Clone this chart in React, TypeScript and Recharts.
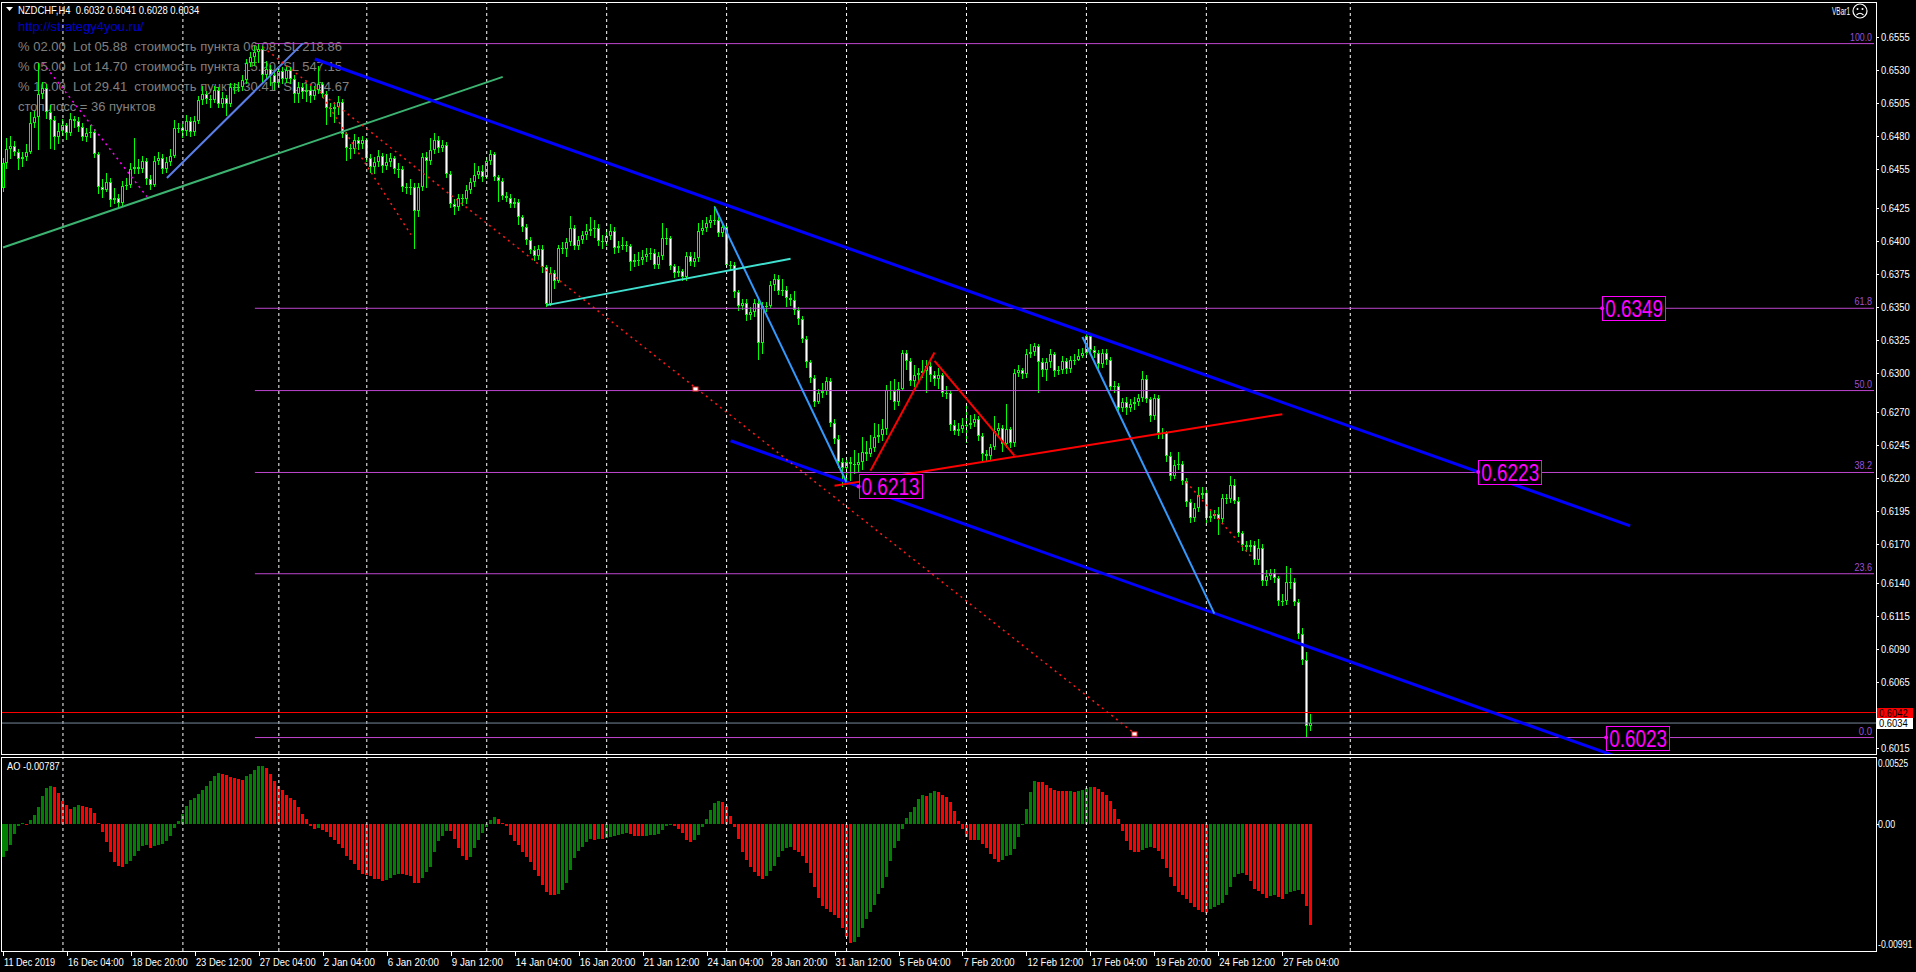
import { Bar, Cell, ComposedChart, ReferenceDot, ReferenceLine, XAxis, YAxis } from "recharts"

// NZDCHF H4, 11 Dec 2019 - 28 Feb 2020, MT4 "green on black" look

const W = 1916
const AXIS_W = 40
const SLOTS = 469 // bar slots across the window, incl. the empty space on the right
const FIRST_OPEN = 6440
const LIME = "#00ff00"
const SANS = "'Liberation Sans', Arial, sans-serif"
const CHAR_W = 4.65 // MT4 uses a narrow 8pt face; squeeze small labels to its width

// prices in pips (x 0.0001)
const closes = [
  6459, 6470, 6472, 6468, 6462, 6464, 6468, 6490, 6494, 6512,
  6516, 6498, 6492, 6479, 6484, 6488, 6482, 6493, 6491, 6487,
  6479, 6482, 6483, 6466, 6441, 6439, 6445, 6431, 6433, 6429,
  6442, 6443, 6455, 6456, 6455, 6461, 6447, 6443, 6461, 6463,
  6455, 6460, 6465, 6486, 6486, 6484, 6491, 6483, 6491, 6507,
  6512, 6508, 6507, 6515, 6504, 6509, 6504, 6517, 6516, 6517,
  6522, 6535, 6540, 6544, 6546, 6526, 6531, 6526, 6520, 6529,
  6523, 6530, 6523, 6512, 6517, 6513, 6515, 6510, 6515, 6519,
  6512, 6501, 6500, 6502, 6506, 6481, 6471, 6470, 6477, 6474,
  6477, 6463, 6456, 6460, 6465, 6457, 6460, 6463, 6455, 6455,
  6441, 6440, 6441, 6423, 6441, 6464, 6461, 6469, 6477, 6471,
  6473, 6451, 6428, 6426, 6433, 6432, 6439, 6445, 6450, 6453,
  6449, 6461, 6466, 6449, 6446, 6434, 6433, 6428, 6430, 6418,
  6411, 6401, 6393, 6389, 6394, 6380, 6352, 6376, 6370, 6395,
  6394, 6399, 6410, 6396, 6401, 6405, 6408, 6409, 6410, 6400,
  6399, 6404, 6408, 6395, 6396, 6397, 6396, 6384, 6386, 6386,
  6388, 6390, 6391, 6382, 6389, 6402, 6402, 6381, 6376, 6377,
  6373, 6389, 6384, 6387, 6408, 6410, 6414, 6416, 6416, 6406,
  6411, 6382, 6382, 6361, 6351, 6353, 6344, 6346, 6353, 6323,
  6351, 6351, 6367, 6371, 6362, 6363, 6357, 6355, 6348, 6341,
  6326, 6308, 6296, 6278, 6285, 6286, 6294, 6262, 6250, 6232,
  6228, 6232, 6231, 6230, 6232, 6240, 6238, 6243, 6251, 6253,
  6257, 6287, 6286, 6278, 6288, 6315, 6309, 6294, 6298, 6300,
  6301, 6305, 6298, 6295, 6298, 6285, 6285, 6260, 6256, 6257,
  6260, 6260, 6262, 6265, 6252, 6238, 6237, 6244, 6256, 6258,
  6246, 6257, 6247, 6300, 6302, 6299, 6314, 6316, 6320, 6308,
  6302, 6308, 6314, 6301, 6302, 6309, 6303, 6310, 6310, 6313,
  6315, 6328, 6317, 6315, 6307, 6315, 6310, 6289, 6290, 6273,
  6278, 6273, 6276, 6278, 6281, 6295, 6280, 6267, 6281, 6254,
  6254, 6237, 6222, 6230, 6231, 6218, 6202, 6190, 6197, 6207,
  6209, 6190, 6191, 6193, 6189, 6205, 6204, 6215, 6203, 6178,
  6169, 6168, 6169, 6158, 6167, 6142, 6146, 6148, 6144, 6127,
  6127, 6141, 6141, 6126, 6102, 6082, 6032, 6034,
]

const highs = [
  6463, 6478, 6480, 6476, 6470, 6468, 6474, 6498, 6499, 6535,
  6521, 6519, 6503, 6495, 6490, 6493, 6490, 6497, 6495, 6494,
  6490, 6486, 6488, 6485, 6468, 6447, 6452, 6448, 6440, 6436,
  6446, 6448, 6459, 6478, 6462, 6465, 6463, 6450, 6465, 6468,
  6466, 6464, 6470, 6492, 6490, 6489, 6496, 6494, 6495, 6510,
  6518, 6514, 6511, 6518, 6517, 6513, 6511, 6520, 6520, 6521,
  6526, 6538, 6544, 6548, 6550, 6548, 6537, 6534, 6530, 6533,
  6532, 6533, 6532, 6526, 6521, 6520, 6519, 6518, 6518, 6533,
  6521, 6514, 6505, 6506, 6510, 6508, 6483, 6474, 6481, 6479,
  6480, 6478, 6466, 6464, 6469, 6467, 6466, 6467, 6465, 6459,
  6457, 6444, 6447, 6444, 6444, 6467, 6468, 6478, 6482, 6480,
  6477, 6475, 6453, 6432, 6436, 6436, 6443, 6448, 6459, 6457,
  6458, 6464, 6469, 6468, 6450, 6448, 6437, 6436, 6433, 6432,
  6420, 6413, 6403, 6396, 6397, 6397, 6382, 6380, 6378, 6397,
  6399, 6402, 6419, 6412, 6404, 6408, 6413, 6418, 6416, 6413,
  6405, 6409, 6413, 6411, 6400, 6403, 6400, 6398, 6390, 6392,
  6393, 6395, 6395, 6394, 6392, 6414, 6410, 6404, 6383, 6381,
  6379, 6392, 6392, 6392, 6414, 6416, 6418, 6420, 6427, 6418,
  6414, 6412, 6385, 6384, 6363, 6356, 6356, 6350, 6356, 6355,
  6354, 6354, 6370, 6375, 6374, 6371, 6366, 6360, 6362, 6350,
  6343, 6328, 6310, 6298, 6288, 6292, 6297, 6296, 6265, 6253,
  6235, 6236, 6236, 6241, 6239, 6251, 6248, 6253, 6262, 6261,
  6265, 6291, 6294, 6295, 6293, 6317, 6317, 6311, 6306, 6304,
  6310, 6310, 6308, 6301, 6304, 6300, 6290, 6287, 6264, 6262,
  6266, 6277, 6268, 6269, 6267, 6254, 6241, 6246, 6267, 6262,
  6260, 6276, 6259, 6303, 6306, 6304, 6318, 6322, 6323, 6322,
  6311, 6311, 6318, 6316, 6305, 6313, 6311, 6313, 6314, 6318,
  6319, 6330, 6329, 6320, 6317, 6318, 6318, 6312, 6294, 6292,
  6281, 6282, 6280, 6282, 6284, 6301, 6298, 6282, 6284, 6283,
  6258, 6256, 6240, 6234, 6240, 6233, 6220, 6204, 6201, 6213,
  6213, 6211, 6195, 6196, 6198, 6208, 6208, 6222, 6219, 6206,
  6180, 6172, 6173, 6172, 6174, 6170, 6150, 6151, 6151, 6146,
  6132, 6153, 6152, 6144, 6128, 6106, 6088, 6041,
]

const lows = [
  6437, 6455, 6462, 6465, 6454, 6456, 6461, 6466, 6486, 6469,
  6508, 6493, 6470, 6469, 6474, 6480, 6477, 6480, 6486, 6483,
  6476, 6475, 6478, 6463, 6436, 6433, 6437, 6426, 6428, 6425,
  6427, 6439, 6440, 6451, 6451, 6452, 6443, 6439, 6441, 6458,
  6451, 6452, 6457, 6463, 6482, 6478, 6480, 6479, 6480, 6489,
  6503, 6504, 6501, 6505, 6501, 6501, 6495, 6502, 6512, 6513,
  6514, 6519, 6532, 6533, 6535, 6520, 6522, 6518, 6515, 6517,
  6519, 6520, 6519, 6505, 6505, 6508, 6506, 6505, 6507, 6512,
  6509, 6488, 6494, 6490, 6496, 6478, 6461, 6462, 6466, 6469,
  6470, 6460, 6452, 6451, 6456, 6452, 6454, 6456, 6451, 6448,
  6437, 6436, 6435, 6394, 6418, 6438, 6440, 6458, 6466, 6467,
  6468, 6448, 6425, 6420, 6423, 6427, 6428, 6436, 6441, 6447,
  6445, 6447, 6458, 6446, 6430, 6431, 6430, 6425, 6425, 6412,
  6407, 6397, 6390, 6385, 6386, 6376, 6350, 6351, 6364, 6368,
  6390, 6388, 6396, 6393, 6393, 6398, 6401, 6404, 6402, 6396,
  6394, 6396, 6401, 6390, 6391, 6393, 6392, 6377, 6380, 6381,
  6382, 6384, 6386, 6379, 6379, 6386, 6397, 6378, 6372, 6373,
  6370, 6370, 6381, 6380, 6384, 6405, 6407, 6410, 6412, 6403,
  6403, 6380, 6378, 6357, 6347, 6348, 6339, 6340, 6342, 6310,
  6314, 6346, 6349, 6362, 6359, 6358, 6350, 6351, 6344, 6336,
  6323, 6304, 6292, 6274, 6276, 6281, 6283, 6259, 6246, 6228,
  6213, 6216, 6218, 6223, 6225, 6226, 6233, 6236, 6240, 6247,
  6248, 6253, 6279, 6272, 6275, 6286, 6302, 6290, 6289, 6294,
  6296, 6285, 6293, 6290, 6288, 6282, 6280, 6256, 6253, 6252,
  6254, 6247, 6257, 6259, 6248, 6233, 6232, 6234, 6241, 6251,
  6240, 6243, 6243, 6244, 6297, 6295, 6296, 6311, 6313, 6285,
  6297, 6294, 6304, 6297, 6298, 6299, 6299, 6300, 6306, 6309,
  6311, 6313, 6314, 6311, 6303, 6304, 6306, 6286, 6285, 6270,
  6270, 6268, 6270, 6272, 6275, 6278, 6277, 6263, 6264, 6250,
  6250, 6232, 6218, 6219, 6226, 6215, 6198, 6186, 6187, 6194,
  6204, 6186, 6187, 6189, 6177, 6186, 6200, 6201, 6200, 6175,
  6165, 6164, 6164, 6154, 6154, 6138, 6138, 6143, 6140, 6123,
  6123, 6124, 6136, 6123, 6098, 6078, 6023, 6028,
]

// Awesome Oscillator, x 0.00001
const aoValues = [
  -255, -211, -159, -78, -16, 8, 5, 31, 70, 135,
  219, 284, 297, 289, 247, 182, 148, 117, 133, 148,
  141, 135, 128, 89, 8, -60, -138, -216, -294, -326,
  -333, -315, -289, -247, -211, -169, -164, -185, -169, -159,
  -151, -130, -94, -29, 23, 78, 141, 188, 206, 232,
  271, 297, 336, 375, 401, 391, 383, 370, 362, 352,
  346, 375, 396, 422, 453, 456, 440, 396, 339, 297,
  266, 227, 206, 188, 135, 83, 39, -13, -34, -29,
  -47, -60, -99, -125, -156, -190, -247, -281, -315, -359,
  -393, -399, -404, -430, -432, -443, -438, -419, -399, -388,
  -393, -399, -404, -456, -458, -419, -373, -333, -216, -133,
  -91, -55, -57, -112, -185, -247, -281, -255, -185, -125,
  -65, -21, 31, 55, 44, 13, -18, -86, -133, -164,
  -216, -255, -294, -359, -404, -477, -529, -550, -555, -542,
  -516, -458, -359, -263, -208, -177, -143, -117, -125, -112,
  -115, -107, -99, -89, -86, -73, -65, -78, -91, -94,
  -96, -89, -83, -81, -73, -44, -18, -5, -13, -34,
  -68, -125, -138, -120, -86, -21, 44, 109, 162, 180,
  175, 141, 63, -21, -117, -216, -281, -333, -373, -406,
  -425, -404, -365, -326, -255, -211, -185, -180, -203, -216,
  -247, -302, -380, -490, -576, -638, -664, -685, -711, -737,
  -810, -880, -927, -920, -880, -810, -742, -685, -628, -542,
  -498, -412, -287, -190, -130, -34, 49, 96, 135, 195,
  227, 221, 245, 261, 253, 227, 214, 172, 102, 26,
  -34, -99, -120, -125, -122, -151, -190, -234, -271, -294,
  -281, -247, -242, -195, -99, 5, 117, 253, 336, 331,
  326, 305, 284, 266, 263, 261, 258, 261, 253, 258,
  266, 284, 292, 287, 274, 253, 227, 180, 117, 44,
  -55, -133, -203, -216, -219, -203, -185, -177, -185, -211,
  -274, -346, -412, -485, -529, -555, -586, -615, -646, -672,
  -685, -693, -664, -646, -633, -615, -555, -490, -412, -386,
  -378, -399, -445, -508, -524, -547, -573, -560, -555, -568,
  -581, -547, -529, -524, -516, -542, -641, -787,
]

const timeTicks = [0, 16, 32, 48, 64, 80, 96, 112, 128, 144, 160, 176, 192, 208, 224, 240, 256, 272, 288, 304, 320]
const timeLabels = [
  "11 Dec 2019", "16 Dec 04:00", "18 Dec 20:00", "23 Dec 12:00", "27 Dec 04:00", "2 Jan 04:00",
  "6 Jan 20:00", "9 Jan 12:00", "14 Jan 04:00", "16 Jan 20:00", "21 Jan 12:00", "24 Jan 04:00",
  "28 Jan 20:00", "31 Jan 12:00", "5 Feb 04:00", "7 Feb 20:00", "12 Feb 12:00", "17 Feb 04:00",
  "19 Feb 20:00", "24 Feb 12:00", "27 Feb 04:00",
]
const weekStarts = [15, 45, 69, 91, 121, 151, 181, 211, 241, 271, 301, 337]

const priceTicks = [
  0.6555, 0.653, 0.6505, 0.648, 0.6455, 0.6425, 0.64, 0.6375, 0.635, 0.6325, 0.63,
  0.627, 0.6245, 0.622, 0.6195, 0.617, 0.614, 0.6115, 0.609, 0.6065, 0.6015,
]
const PRICE_MIN = 0.60105
const PRICE_MAX = 0.65816

const AO_MIN = -991
const AO_MAX = 525
const aoTicks = [525, 0, -991]
const aoTickLabels = ["0.00525", "0.00", "-0.00991"]

// fibonacci retracement 0.6550 -> 0.6023
const fibLevels = ["100.0", "61.8", "50.0", "38.2", "23.6", "0.0"]
const fibPrices = [0.655, 0.6349, 0.62865, 0.62243, 0.61474, 0.6023]
const FIB_FROM = 63

// hand drawn objects, [bar, price]
const trendLines = [
  { name: "support", from: [0, 0.63952], to: [125, 0.65247] },
  { name: "channelTop", from: [78, 0.65383], to: [407, 0.61838] },
  { name: "channelLow", from: [182, 0.62484], to: [409, 0.60027] },
  { name: "swingUp", from: [41, 0.6448], to: [75, 0.65502] },
  { name: "swingDown", from: [178, 0.6426], to: [211, 0.62169] },
  { name: "swingDown", from: [270, 0.63272], to: [303, 0.61171] },
  { name: "base", from: [136, 0.63514], to: [197, 0.63866] },
  { name: "red", from: [217, 0.62257], to: [233, 0.63154] },
  { name: "red", from: [233, 0.6309], to: [253, 0.62371] },
  { name: "red", from: [208, 0.62143], to: [320, 0.62686] },
  { name: "redDots", from: [65, 0.65474], to: [283, 0.60262] },
  { name: "redDots", from: [80, 0.65095], to: [102, 0.6405] },
  { name: "redDots", from: [296, 0.62171], to: [312, 0.61611] },
  { name: "pinkDots", from: [10, 0.65353], to: [36, 0.64338] },
]

const lineStyle: Record<string, { stroke: string; width: number; dash?: string }> = {
  support: { stroke: "#3cb371", width: 2 },
  channelTop: { stroke: "#0000ff", width: 3 },
  channelLow: { stroke: "#0000ff", width: 3 },
  swingUp: { stroke: "#5b7fe8", width: 2 },
  swingDown: { stroke: "#3399ff", width: 2 },
  base: { stroke: "#40e0d0", width: 2 },
  red: { stroke: "#ff0000", width: 2 },
  redDots: { stroke: "#ff1a1a", width: 1.5, dash: "2 4" },
  pinkDots: { stroke: "#ff00ff", width: 1.5, dash: "2 4" },
}

const priceBoxes = [
  { bar: 400, price: 0.6349, text: "0.6349" },
  { bar: 369, price: 0.62247, text: "0.6223" },
  { bar: 214, price: 0.62137, text: "0.6213" },
  { bar: 401, price: 0.6023, text: "0.6023" },
]
const markers = [
  { bar: 173, price: 0.62876 },
  { bar: 283, price: 0.6026 },
]

const ASK = 0.6042
const BID = 0.6034

const infoLines = [
  "% 02.00  Lot 05.88  стоимость пункта 06.08  SL 218.86",
  "% 05.00  Lot 14.70  стоимость пункта 15.20  SL 547.15",
  "% 10.00  Lot 29.41  стоимость пункта 30.41  SL 1094.67",
  "стоп лосс = 36 пунктов",
]

const rows = Array.from({ length: SLOTS }, (_, i) => {
  if (i >= closes.length) return { i }
  return {
    i,
    o: (i === 0 ? FIRST_OPEN : closes[i - 1]) / 1e4,
    h: highs[i] / 1e4,
    l: lows[i] / 1e4,
    c: closes[i] / 1e4,
    ao: aoValues[i],
  }
})

// small text squeezed to the narrow MT4 width
function Small({ x, y, text, fill = "#fff", anchor = "start", perChar = CHAR_W, size = 11 }: any) {
  return (
    <text
      x={x}
      y={y}
      fill={fill}
      fontSize={size}
      fontFamily={SANS}
      textAnchor={anchor}
      textLength={text.length * perChar}
      lengthAdjust="spacingAndGlyphs"
      xmlSpace="preserve"
    >
      {text}
    </text>
  )
}

function Candle(props: any) {
  const { x, y, width, height, payload } = props
  if (!payload || payload.c == null || y == null) return null
  const top = Math.min(y, y + height)
  const h = Math.abs(height)
  const span = payload.h - payload.l
  const k = span > 0 ? h / span : 0
  const bTop = Math.round(top + (payload.h - Math.max(payload.o, payload.c)) * k)
  const bBot = Math.round(top + (payload.h - Math.min(payload.o, payload.c)) * k)
  const left = Math.round(x + width / 2 - 1.5)
  const bodyH = Math.max(1, bBot - bTop)
  const bull = payload.c > payload.o
  return (
    <g shapeRendering="crispEdges">
      <rect x={left + 1} y={Math.round(top)} width={1} height={Math.max(1, Math.round(top + h) - Math.round(top))} fill={LIME} />
      <rect x={left} y={bTop} width={3} height={bodyH} fill={LIME} />
      {bodyH > 2 && <rect x={left + 1} y={bTop + 1} width={1} height={bodyH - 2} fill={bull ? "#000" : "#fff"} />}
    </g>
  )
}

function AoBar(props: any) {
  const { x, y, width, height, fill } = props
  if (y == null || !height) return null
  const top = Math.round(Math.min(y, y + height))
  const bot = Math.round(Math.max(y, y + height))
  const left = Math.round(x + width / 2 - 1.5)
  return <rect x={left} y={top} width={3} height={Math.max(1, bot - top)} fill={fill} shapeRendering="crispEdges" />
}

function PriceTick({ x, y, payload }: any) {
  const yy = Math.round(y) + 0.5
  return (
    <g>
      <line x1={x} x2={x + 3} y1={yy} y2={yy} stroke="#fff" />
      <Small x={x + 5} y={y + 4} text={Number(payload.value).toFixed(4)} perChar={4.8} />
    </g>
  )
}

function AoTick({ x, y, payload }: any) {
  const k = aoTicks.indexOf(payload.value)
  const dy = payload.value === AO_MAX ? 10 : payload.value === AO_MIN ? -3 : 4
  const yy = Math.round(y) + 0.5
  return (
    <g>
      {payload.value === 0 && <line x1={x} x2={x + 3} y1={yy} y2={yy} stroke="#fff" />}
      <Small x={x + 2} y={y + dy} text={aoTickLabels[k]} perChar={4.3} size={10} />
    </g>
  )
}

function TimeTick({ x, y, payload }: any) {
  const k = timeTicks.indexOf(payload.value)
  const xx = Math.round(x) + 0.5
  return (
    <g>
      <line x1={xx} x2={xx} y1={y} y2={y + 5} stroke="#fff" />
      <Small x={x + 1} y={y + 15} text={timeLabels[k]} />
    </g>
  )
}

function fibLabel(text: string) {
  return (p: any) => {
    const vb = p.viewBox || {}
    return <Small x={vb.x + vb.width - 2} y={vb.y - 3} text={text} anchor="end" fill="#9b4fd6" perChar={4.4} />
  }
}

function PriceBox(text: string) {
  return (p: any) => (
    <g>
      <rect x={Math.round(p.cx) + 0.5} y={Math.round(p.cy) - 11.5} width={63} height={24} fill="#000" stroke="#ff00ff" />
      <circle cx={p.cx} cy={p.cy} r={2} fill="#ff00ff" />
      <text
        x={p.cx + 3}
        y={p.cy + 9}
        fill="#ff00ff"
        fontSize={24}
        fontFamily={SANS}
        textLength={58}
        lengthAdjust="spacingAndGlyphs"
      >
        {text}
      </text>
    </g>
  )
}

function AxisTag(text: string, bg: string, fg: string) {
  return (p: any) => (
    <g>
      <rect x={Math.round(p.cx) + 3} y={Math.round(p.cy) - 5} width={36} height={11} fill={bg} shapeRendering="crispEdges" />
      <Small x={Math.round(p.cx) + 5} y={Math.round(p.cy) + 4} text={text} fill={fg} perChar={4.8} />
    </g>
  )
}

function Marker(p: any) {
  return <rect x={Math.round(p.cx) - 2} y={Math.round(p.cy) - 2} width={5} height={4} fill="#fff" stroke="#ff3030" strokeWidth={1} />
}

const separators = (id: string) =>
  weekStarts.map((b) => (
    <ReferenceLine key={id + b} x={b} stroke="#ffffff" strokeDasharray="3 3" strokeWidth={1} ifOverflow="visible" />
  ))

export default function App() {
  return (
    <div style={{ position: "fixed", left: 0, top: 0, width: W, height: 972, background: "#000", overflow: "hidden" }}>
      {/* chart header and the risk calculator text, under the candles */}
      <svg style={{ position: "absolute", left: 0, top: 0 }} width={W} height={972}>
        <path d="M6 7 L13 7 L9.5 11 Z" fill="#fff" />
        <Small x={18} y={14} text="NZDCHF,H4  0.6032 0.6041 0.6028 0.6034" perChar={4.77} />
        <Small x={1832} y={15} text="VBar1" perChar={3.6} />
        <circle cx={1860} cy={11} r={7} fill="none" stroke="#fff" strokeWidth={1.2} />
        <circle cx={1857.5} cy={9} r={1} fill="#fff" />
        <circle cx={1862.5} cy={9} r={1} fill="#fff" />
        <path d="M1856.5 15 Q1860 11.5 1863.5 15" fill="none" stroke="#fff" strokeWidth={1.1} />
        <Small x={7} y={770} text="AO -0.00787" perChar={4.8} />
      </svg>
      <div style={{ position: "absolute", left: 18, top: 19, color: "#0000cd", fontSize: 13, lineHeight: "16px", fontFamily: SANS }}>
        http://strategy4you.ru/
      </div>
      {infoLines.map((t, k) => (
        <div
          key={k}
          style={{ position: "absolute", left: 18, top: 39 + k * 20, color: "#808080", fontSize: 13, lineHeight: "16px", fontFamily: SANS, whiteSpace: "pre" }}
        >
          {t}
        </div>
      ))}

      <div style={{ position: "absolute", left: 0, top: 0 }}>
        <ComposedChart width={W} height={756} data={rows} margin={{ top: 2, right: 0, bottom: 2, left: 1 }} barCategoryGap={0}>
          <XAxis dataKey="i" type="category" hide />
          <YAxis
            orientation="right"
            width={AXIS_W}
            type="number"
            domain={[PRICE_MIN, PRICE_MAX]}
            allowDataOverflow
            ticks={priceTicks}
            interval={0}
            axisLine={false}
            tickLine={false}
            tickSize={0}
            tickMargin={0}
            tick={<PriceTick />}
          />
          {separators("m")}
          <Bar dataKey={(d: any) => (d.c == null ? null : [d.l, d.h])} shape={<Candle />} isAnimationActive={false} />
          {fibPrices.map((p, k) => (
            <ReferenceLine
              key={"fib" + k}
              segment={[
                { x: FIB_FROM, y: p },
                { x: SLOTS - 1, y: p },
              ]}
              stroke="#bf45cf"
              strokeWidth={1}
              ifOverflow="visible"
              label={fibLabel(fibLevels[k])}
            />
          ))}
          <ReferenceLine y={ASK} stroke="#ff0000" strokeWidth={1} ifOverflow="visible" />
          <ReferenceLine y={BID} stroke="#778899" strokeWidth={1} ifOverflow="visible" />
          {trendLines.map((t, k) => {
            const s = lineStyle[t.name]
            return (
              <ReferenceLine
                key={"tl" + k}
                segment={[
                  { x: t.from[0], y: t.from[1] },
                  { x: t.to[0], y: t.to[1] },
                ]}
                stroke={s.stroke}
                strokeWidth={s.width}
                strokeDasharray={s.dash}
                ifOverflow="hidden"
              />
            )
          })}
          {markers.map((m, k) => (
            <ReferenceDot key={"mk" + k} x={m.bar} y={m.price} ifOverflow="visible" shape={Marker} />
          ))}
          {priceBoxes.map((b, k) => (
            <ReferenceDot key={"pb" + k} x={b.bar} y={b.price} ifOverflow="visible" shape={PriceBox(b.text)} />
          ))}
          <ReferenceDot x={SLOTS - 1} y={ASK} ifOverflow="visible" shape={AxisTag("0.6042", "#ff0000", "#000")} />
          <ReferenceDot x={SLOTS - 1} y={BID} ifOverflow="visible" shape={AxisTag("0.6034", "#ffffff", "#000")} />
        </ComposedChart>
      </div>

      <div style={{ position: "absolute", left: 0, top: 757 }}>
        <ComposedChart width={W} height={215} data={rows} margin={{ top: 0, right: 0, bottom: 0, left: 1 }} barCategoryGap={0}>
          <XAxis
            dataKey="i"
            type="category"
            height={21}
            ticks={timeTicks}
            interval={0}
            axisLine={false}
            tickLine={false}
            tickSize={0}
            tickMargin={0}
            tick={<TimeTick />}
          />
          <YAxis
            orientation="right"
            width={AXIS_W}
            type="number"
            domain={[AO_MIN, AO_MAX]}
            allowDataOverflow
            ticks={aoTicks}
            interval={0}
            axisLine={false}
            tickLine={false}
            tickSize={0}
            tickMargin={0}
            tick={<AoTick />}
          />
          {separators("a")}
          <Bar dataKey="ao" shape={<AoBar />} isAnimationActive={false}>
            {rows.map((r: any, k) => (
              <Cell key={k} fill={k > 0 && r.ao < aoValues[k - 1] ? "#ff0000" : "#008000"} />
            ))}
          </Bar>
        </ComposedChart>
      </div>

      {/* panel frames */}
      <div style={{ position: "absolute", left: 1, top: 2, width: 1876, height: 753, border: "1px solid #fff", boxSizing: "border-box", pointerEvents: "none" }} />
      <div style={{ position: "absolute", left: 1, top: 757, width: 1876, height: 195, border: "1px solid #fff", boxSizing: "border-box", pointerEvents: "none" }} />
    </div>
  )
}
